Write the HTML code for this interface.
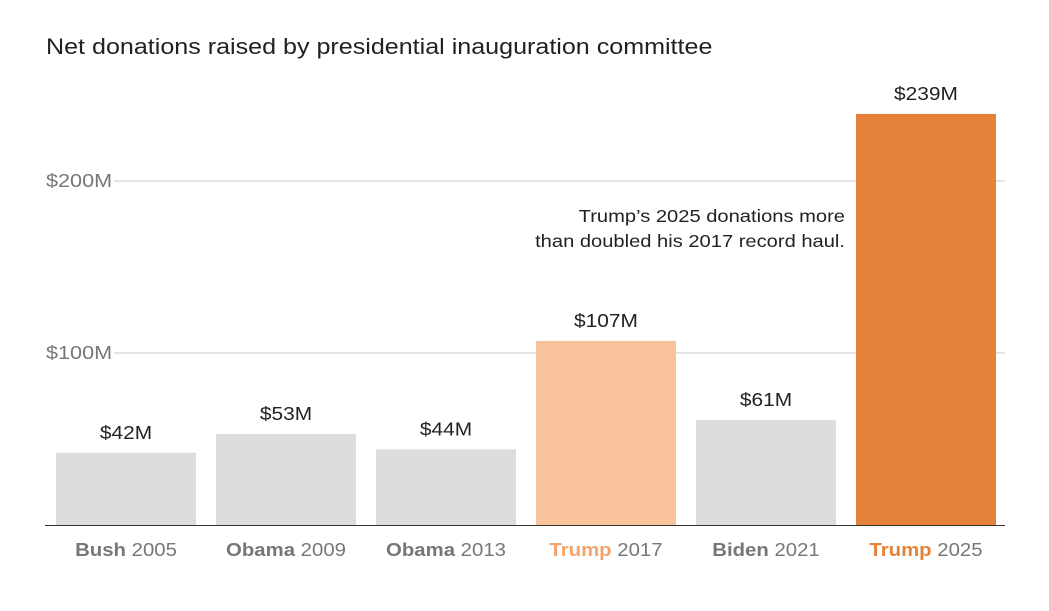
<!DOCTYPE html>
<html><head><meta charset="utf-8">
<style>
html,body{margin:0;padding:0;background:#fff;}
body{width:1049px;height:606px;overflow:hidden;font-family:"Liberation Sans",Arial,sans-serif;}
svg text{font-family:"Liberation Sans",Arial,sans-serif;}
</style></head><body>
<svg id="chart" width="1049" height="606" xmlns="http://www.w3.org/2000/svg">
<text class="st" data-k="1.14" x="46" y="54" font-size="22" fill="#222">Net donations raised by presidential inauguration committee</text>
<g id="grid"></g>
<g id="bars"></g>
<text class="st" data-k="1.15" data-anchor="end" x="845" y="222" font-size="17.5" fill="#222" text-anchor="end">Trump’s 2025 donations more</text>
<text class="st" data-k="1.15" data-anchor="end" x="845" y="247" font-size="17.5" fill="#222" text-anchor="end">than doubled his 2017 record haul.</text>
<line x1="45" x2="1005" y1="525.5" y2="525.5" stroke="#333" stroke-width="1"/>
</svg>
<script>
const names = ["Bush","Obama","Obama","Trump","Biden","Trump"];
const years = ["2005","2009","2013","2017","2021","2025"];
const values = [42,53,44,107,61,239];
const tickValues = [100,200];
const tickLabels = ["$100M","$200M"];
const colors = ["#dddddd","#dddddd","#dddddd","#f8c39a","#dddddd","#e5823a"];
const nameColors = ["#777","#777","#777","#f4a46a","#777","#e5823a"];

const NS="http://www.w3.org/2000/svg";
const y = v => 525 - v*1.72;
const x = i => 56 + i*160;
const bw = 140;
function mk(tag, attrs, parent){const e=document.createElementNS(NS,tag);for(const k in attrs)e.setAttribute(k,attrs[k]);parent.appendChild(e);return e;}
const grid=document.getElementById('grid'), bars=document.getElementById('bars');
tickValues.forEach((t,i)=>{
  const gl=mk('line',{x1:114,x2:1005,y1:y(t),y2:y(t),stroke:'#dcdcdc','stroke-width':1.5},grid);
  
  
  const tl=mk('text',{x:46,y:y(t)+6,'font-size':18,fill:'#777',class:'st','data-k':1.2},grid);
  tl.textContent=tickLabels[i];
  
  
});
values.forEach((v,i)=>{
  const r=mk('rect',{x:x(i),y:y(v),width:bw,height:525-y(v),fill:colors[i]},bars);
  
  
  const vl=mk('text',{x:x(i)+bw/2,y:y(v)-14,'font-size':18,fill:'#222','text-anchor':'middle',class:'st','data-k':1.16},bars);
  vl.textContent='$'+v+'M';
  
  
  const cl=mk('text',{x:x(i)+bw/2,y:556,'font-size':18,fill:'#777','text-anchor':'middle',class:'st','data-k':1.13},bars);
  
  
  const b=mk('tspan',{'font-weight':'bold',fill:nameColors[i]},cl); b.textContent=names[i];
  const s=mk('tspan',{},cl); s.textContent=' '+years[i];
});
document.querySelectorAll('text.st').forEach(t=>{
  const k=parseFloat(t.getAttribute('data-k'));
  const L=t.getComputedTextLength();
  t.setAttribute('textLength',(L*k).toFixed(1));
  t.setAttribute('lengthAdjust','spacingAndGlyphs');
});
</script>
</body></html>
